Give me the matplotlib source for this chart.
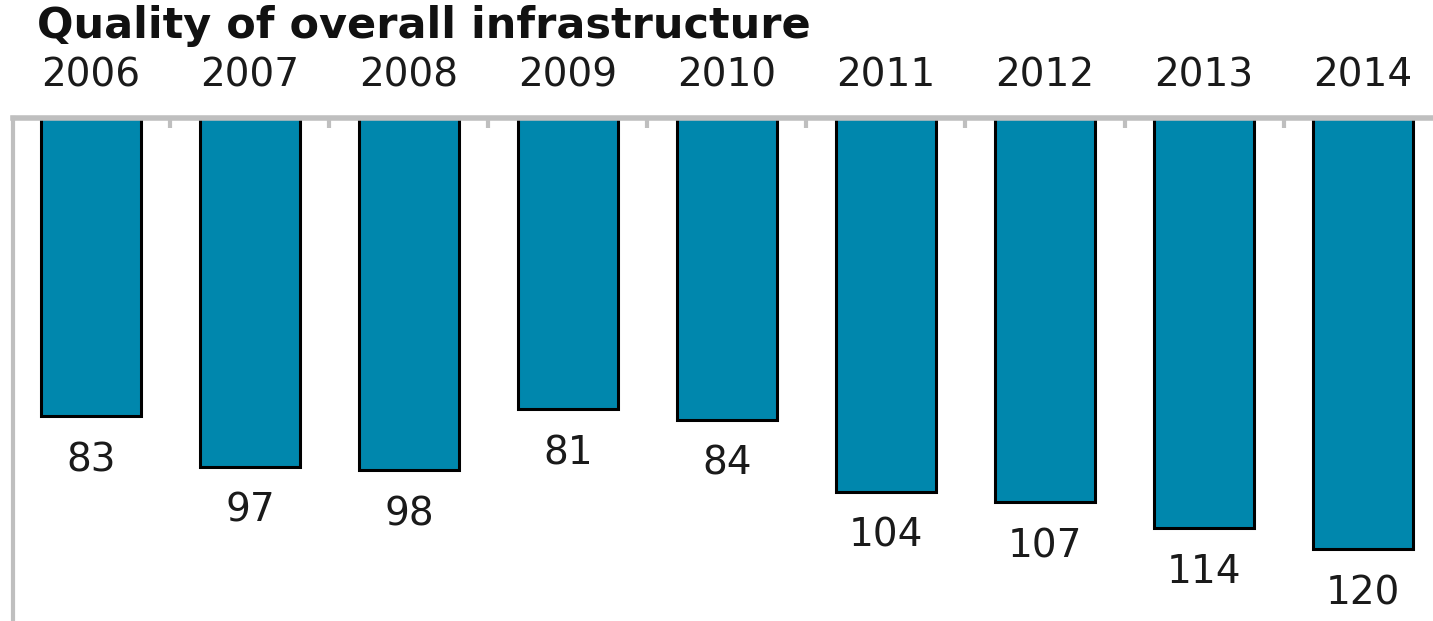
import matplotlib
matplotlib.use("Agg")
import matplotlib.pyplot as plt
from matplotlib.ticker import FixedLocator

years = ["2006", "2007", "2008", "2009", "2010", "2011", "2012", "2013", "2014"]
ranks = [83, 97, 98, 81, 84, 104, 107, 114, 120]
title = "Quality of overall infrastructure"

bar_color = "#0087AD"
spine_color = "#BFBFBF"
text_color = "#1A1A1A"

W, H = 1433, 621
fig = plt.figure(figsize=(W / 100, H / 100), dpi=100)
# axes from the left spine (x=13 px) to the right edge, top spine at y=118 px
ax = fig.add_axes([13 / W, 0, 1 - 13 / W, 1 - 118 / H])

x = list(range(len(years)))
ax.bar(x, ranks, width=0.63, color=bar_color, edgecolor="black", linewidth=2.2)

ax.set_xlim(-0.49, 8.44)
ax.set_ylim(140, 0)

for xi, v in zip(x, ranks):
    ax.annotate(str(v), (xi, v), xytext=(0, -44), textcoords="offset pixels",
                ha="center", va="center", fontsize=28, color=text_color)

# year labels above the top axis
ax.xaxis.tick_top()
ax.set_xticks(x)
ax.set_xticklabels(years, fontsize=28, color=text_color)
ax.tick_params(axis="x", which="major", length=0, pad=17)
ax.xaxis.set_minor_locator(FixedLocator([i + 0.5 for i in range(len(years) - 1)]))
ax.tick_params(axis="x", which="minor", direction="in", length=7, width=3,
               color=spine_color, top=True, bottom=False)
ax.set_yticks([])

for side in ("right", "bottom"):
    ax.spines[side].set_visible(False)
ax.spines["top"].set_color(spine_color)
ax.spines["top"].set_linewidth(4)
ax.spines["left"].set_color(spine_color)
ax.spines["left"].set_linewidth(3)

fig.text(37 / W, 1 - 26 / H, title, fontsize=31, fontweight="bold",
         color="#111111", ha="left", va="center")

fig.savefig("out.png", dpi=100)
